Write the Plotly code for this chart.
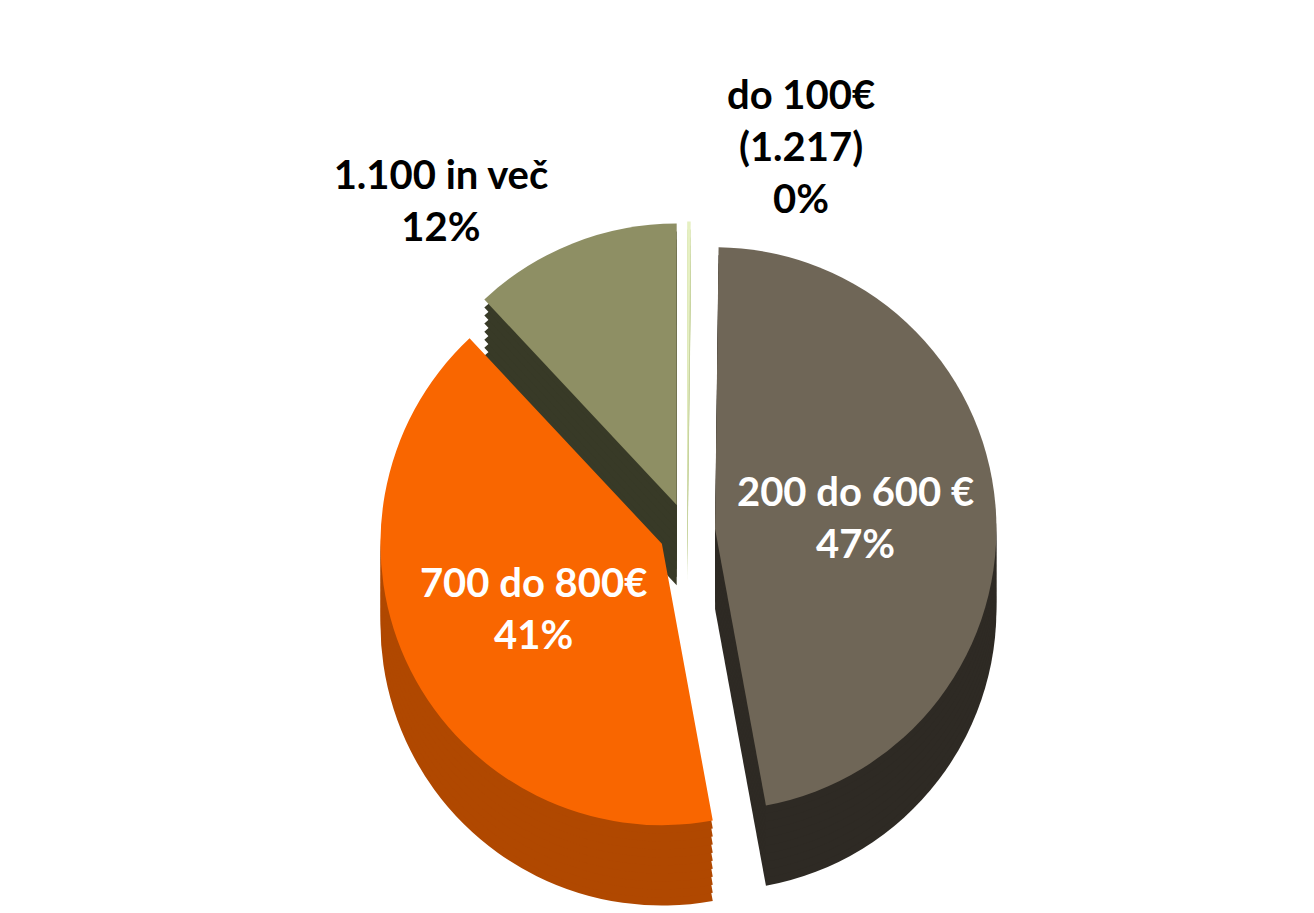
import plotly.graph_objects as go

labels = ["do 100€<br>(1.217)", "200 do 600 €", "700 do 800€", "1.100 in več"]
values = [0.2, 47, 41, 12]
top_colors = ["#e6f0c2", "#6f6657", "#f96600", "#8e8f64"]
side_colors = ["#c8d4a0", "#2e2a24", "#b04800", "#383a27"]
pulls = [0.1, 0.1, 0.1, 0.1]
text_pos = ["outside", "inside", "inside", "outside"]

FONT = "Lato, DejaVu Sans, sans-serif"
top_y = [0.10, 0.87]
depth_steps = [0.10, 0.09, 0.08, 0.07, 0.06, 0.05, 0.04, 0.03, 0.02, 0.01]

fig = go.Figure()

# side (depth) layers, deepest first
for d in depth_steps:
    fig.add_trace(go.Pie(
        labels=labels, values=values, sort=False, direction="clockwise", rotation=0,
        pull=pulls, marker=dict(colors=side_colors, line=dict(width=0)),
        textinfo="none", hoverinfo="skip", showlegend=False,
        domain=dict(x=[0, 1], y=[top_y[0] - d, top_y[1] - d]),
    ))

# top layer
fig.add_trace(go.Pie(
    labels=labels, values=values, sort=False, direction="clockwise", rotation=0,
    pull=pulls, marker=dict(colors=top_colors, line=dict(width=0)),
    texttemplate="<b>%{label}<br>%{percent:.0%}</b>", textposition=text_pos,
    insidetextfont=dict(color="white", size=40, family=FONT),
    outsidetextfont=dict(color="black", size=40, family=FONT),
    insidetextorientation="horizontal",
    showlegend=False,
    domain=dict(x=[0, 1], y=top_y),
))

fig.update_layout(
    width=1314, height=913,
    margin=dict(l=0, r=0, t=0, b=0),
    paper_bgcolor="white", plot_bgcolor="white",
    font=dict(family=FONT),
)

fig.write_html("out.html")
